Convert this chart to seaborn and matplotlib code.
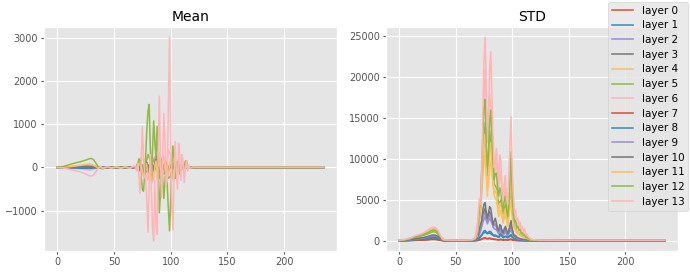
import matplotlib
matplotlib.use("Agg")
import matplotlib.pyplot as plt
from matplotlib.lines import Line2D
import numpy as np
import pandas as pd
import seaborn as sns

# ---------------- x positions ----------------
x_fine = ([0, 5, 10, 15, 20, 25, 28, 30, 32, 34, 36, 38, 40, 44, 48, 52, 56, 60, 64, 67]
          + list(range(69, 118))
          + [120, 124, 130, 140, 160, 200, 235])
x_coarse = [0, 5, 10, 15, 20, 25, 28, 30, 33, 36,
            40, 50, 60, 67, 70, 72, 74, 76, 78, 80,
            82, 84, 86, 88, 90, 92, 94, 96, 98, 100,
            102, 104, 106, 108, 110, 114, 118, 124, 140, 235]

layers = [f"layer {i}" for i in range(14)]
colors = ['#E24A33', '#348ABD', '#988ED5', '#777777', '#FBC15E', '#8EBA42', '#FFB5B8']

# ---------------- Mean (coarse grid: layers 0-9) ----------------
mean_l0 = [0, 0, -1, -1, -2, -2, -3, -2, -1, 0, 0, 0, 0, 0, 0, 2, -3, 4, -4, 5,
           -4, 4, -5, 5, -4, 3, -3, 3, -3, 2, -1, 1, 0, 0, 0, 0, 0, 0, 0, 0]
mean_l1 = [0, -2, -5, -8, -10, -13, -15, -14, -7, 0, 0, 0, 0, 0, 0, 5, -10, 15, -15, 20,
           -15, 15, -20, 20, -15, 10, -10, 10, -10, 8, -5, 3, 0, 0, 0, 0, 0, 0, 0, 0]
mean_l2 = [0, -3, -8, -12, -16, -20, -22, -20, -10, 0, 0, 0, 0, 0, -5, 10, -30, 30, -40, 50,
           -40, 40, -50, 50, -40, 30, -25, 20, -20, 15, -10, 5, 0, 0, 0, 0, 0, 0, 0, 0]
mean_l3 = [0, 1, 3, 5, 7, 9, 10, 9, 5, 0, 0, 0, 0, 0, 5, -15, -30, 40, -30, 60,
           -40, 50, -50, 70, -40, 40, -30, 30, -40, 30, -20, 15, -10, 5, 0, 0, 0, 0, 0, 0]
mean_l4 = [0, 2, 5, 8, 12, 18, 20, 18, 10, 0, 0, 0, 0, 0, 10, 30, 40, -40, 20, -50,
           -20, -40, 20, -40, 30, 20, -20, 20, -40, 40, -30, 20, -10, 10, -5, 5, 0, 0, 0, 0]
mean_l5 = [0, 5, 15, 25, 35, 50, 60, 55, 30, 0, -5, 0, 0, 5, 10, 50, -50, -150, 80, 300,
           150, 100, 250, 200, -250, 50, -150, 0, -250, -200, 100, -50, 30, -20, 20, 30, 0, 0, 0, 0]
mean_l6 = [0, -5, -15, -25, -35, -50, -60, -60, -30, 0, 5, 0, 5, -10, 20, -80, 150, 200, -150, -300,
           100, -350, 250, -300, 350, -150, 250, -100, 400, 300, -300, 150, -100, 60, 50, 20, 0, 0, 0, 0]
mean_l7 = [0, 0, -1, -2, -3, -4, -5, -4, -2, 0, 0, 0, 0, 0, 2, -5, 8, -10, 10, -8,
           6, -8, 8, -6, 5, -5, 4, -3, 3, -2, 1, 0, 0, 0, 0, 0, 0, 0, 0, 0]
mean_l8 = [0, -3, -8, -12, -16, -20, -22, -20, -10, 0, 0, 0, 0, 0, -5, 10, 20, -20, 30, -30,
           20, -25, 30, -20, 15, -15, 10, -10, 10, -5, 5, 0, 0, 0, 0, 0, 0, 0, 0, 0]
mean_l9 = [0, 5, 10, 15, 20, 25, 25, 20, 10, 0, 0, 0, 0, -5, 10, -20, -60, 50, -80, -120,
           100, -60, 80, -100, 90, -70, 60, -40, 30, -20, 10, -10, 5, 0, 0, 0, 0, 0, 0, 0]

# ---------------- Mean (fine grid: layers 10-13) ----------------
mean_l10 = [0, 2, 5, 8, 10, 15, 15, 12, 8, 3, 0, -5, 5, -5, 5, -5, 5, -5, 5, -10,
            10, -20, 30, -40, -80, 40, 60, -100, -150, 50, 120, -50, -120, 50, 150, 50, -80, 100, 280, 150,
            -50, -100, 80, 120, -50, -120, 50, 100, -30, -80, 40, 60, -20, -50, 20, 30, -10, -20, 10, 10,
            -5, 5, 0, 5, 0, 0, 0, 0, 0,
            0, 0, 0, 0, 0, 0, 0]
mean_l11 = [0, 5, 15, 30, 50, 70, 80, 75, 50, 20, -10, 10, -15, 10, -10, 15, -10, 10, -15, 20,
            -30, 60, -50, 120, 220, 180, -100, -200, -100, 100, 50, -150, -250, -100, 150, -200, -280, 50, 150, -150,
            -200, 100, 250, 50, -150, -100, 150, 100, -100, -200, 100, 200, 0, -150, -50, 100, 50, -80, -50, 60,
            40, -40, 30, 50, -20, 20, -10, 5, 0,
            0, 0, 0, 0, 0, 0, 0]
mean_l12 = [0, 20, 60, 100, 130, 170, 200, 210, 180, 100, 20, -20, -30, 10, -5, 5, -5, 5, -10, 20,
            -20, 50, 100, 200, 150, -200, -500, -550, -200, 300, 900, 1300, 1460, 500, -300, 400, 1080, 600, 200, 950,
            200, -1050, -600, 200, -300, -720, -300, 100, -400, -1000, -1470, -800, 100, 500, 200, -250, -100, 150, 100, -150,
            50, 100, -50, 50, 150, 150, 50, 0, 10,
            5, 0, 0, 0, 0, 0, 0]
mean_l13 = [0, -10, -40, -70, -100, -150, -190, -200, -180, -100, -20, 20, -20, 15, -10, 10, -15, 10, -20, 30,
            30, -80, 100, -200, -600, 100, 950, 300, -200, -300, -800, -1500, -400, 300, -500, -1400, -1700, -300, -1300, -1550,
            400, 1650, 200, -700, 300, 1250, 600, -400, -300, 1500, 3020, 800, -900, -1450, -200, 600, -100, -500, 560, 200,
            -300, 300, 100, -350, 0, 150, -80, 40, -20,
            10, 5, 5, 5, 5, 5, 5]

# ---------------- STD (coarse grid: layers 0-6) ----------------
std_l0 = [35, 45, 60, 85, 110, 150, 190, 200, 180, 100, 40, 35, 35, 50, 120, 200, 300, 350, 280, 320,
          250, 200, 180, 150, 180, 120, 150, 110, 200, 150, 90, 70, 60, 50, 45, 40, 35, 35, 35, 35]
std_l1 = [45, 60, 95, 150, 200, 280, 340, 370, 330, 170, 50, 45, 45, 70, 250, 500, 900, 1100, 900, 1000,
          800, 600, 650, 450, 750, 400, 550, 400, 650, 500, 250, 200, 150, 100, 90, 60, 50, 45, 45, 45]
std_l2 = [60, 80, 130, 210, 300, 410, 510, 550, 500, 260, 70, 60, 60, 100, 500, 1200, 2300, 3000, 2100, 2800,
          2200, 1500, 1400, 900, 1200, 700, 1100, 600, 1300, 1000, 400, 350, 250, 180, 150, 90, 70, 60, 60, 60]
std_l3 = [70, 90, 150, 260, 340, 470, 600, 640, 580, 300, 80, 70, 70, 120, 700, 1700, 3200, 4000, 2400, 3600,
          2600, 2000, 1900, 1100, 1600, 900, 1500, 800, 1700, 1300, 500, 420, 300, 220, 180, 110, 80, 70, 70, 70]
std_l4 = [90, 150, 300, 510, 720, 980, 1200, 1280, 1150, 600, 110, 90, 90, 220, 1500, 3500, 8000, 11000, 5500, 10000,
          8500, 5500, 5000, 3000, 3800, 2200, 3400, 1800, 4800, 3000, 1500, 1000, 800, 600, 500, 250, 110, 90, 90, 90]
std_l5 = [90, 130, 260, 470, 640, 850, 1050, 1150, 1050, 500, 110, 90, 90, 200, 1800, 4000, 10000, 14500, 8000, 13500,
          11000, 7000, 6500, 4500, 5000, 3300, 4500, 2500, 6000, 4500, 2000, 1300, 1000, 700, 600, 300, 120, 90, 90, 90]
std_l6 = [90, 170, 340, 600, 780, 1100, 1350, 1450, 1300, 700, 130, 100, 100, 250, 2800, 4000, 13000, 21000, 12000, 18000,
          15000, 8000, 9500, 6500, 8500, 4500, 6500, 4000, 10000, 7500, 3000, 2200, 1800, 1300, 1000, 500, 150, 100, 90, 90]

# ---------------- STD (fine grid: layers 7-13) ----------------
std_l7 = [40, 50, 70, 100, 130, 180, 220, 240, 230, 190, 110, 60, 40, 40, 40, 40, 40, 40, 42, 45,
          50, 80, 130, 170, 220, 300, 380, 400, 330, 300, 330, 350, 330, 280, 230, 220, 230, 200, 170, 160,
          200, 220, 170, 140, 160, 180, 160, 140, 170, 220, 250, 180, 120, 90, 90, 70, 65, 55, 50, 45,
          42, 40, 40, 38, 38, 36, 35, 35, 35,
          35, 35, 35, 35, 35, 35, 35]
std_l8 = [50, 70, 110, 170, 230, 320, 400, 430, 410, 350, 200, 90, 60, 50, 50, 50, 50, 50, 55, 80,
          100, 250, 450, 600, 750, 1000, 1250, 1300, 1100, 1000, 1100, 1200, 1150, 950, 750, 700, 750, 650, 550, 500,
          800, 900, 600, 450, 550, 600, 550, 450, 500, 700, 800, 550, 350, 250, 280, 200, 180, 150, 130, 110,
          100, 90, 80, 70, 65, 60, 55, 50, 50,
          50, 50, 50, 50, 50, 50, 50]
std_l9 = [70, 90, 150, 250, 350, 480, 600, 650, 620, 520, 300, 130, 80, 70, 70, 70, 70, 70, 80, 120,
          250, 600, 1100, 1500, 1900, 2800, 3300, 3500, 2700, 2300, 2700, 3300, 3100, 2400, 1700, 1900, 2100, 1700, 1200, 1000,
          1500, 1450, 950, 800, 1150, 1350, 1050, 700, 900, 1500, 1900, 1150, 700, 450, 520, 380, 300, 260, 220, 180,
          150, 150, 130, 110, 110, 90, 80, 75, 70,
          70, 70, 70, 70, 70, 70, 70]
std_l10 = [80, 100, 180, 300, 400, 550, 700, 750, 720, 600, 350, 150, 90, 80, 80, 80, 80, 80, 90, 150,
           300, 800, 1500, 2000, 2500, 3800, 4500, 4700, 3500, 2800, 3500, 4200, 4000, 3000, 2000, 2400, 2800, 2200, 1500, 1300,
           2000, 1900, 1200, 1000, 1500, 1800, 1400, 900, 1200, 2000, 2500, 1500, 900, 600, 700, 500, 400, 350, 300, 250,
           200, 200, 180, 150, 150, 120, 110, 100, 100,
           90, 80, 80, 80, 80, 80, 80]
std_l11 = [100, 180, 350, 600, 850, 1150, 1400, 1500, 1450, 1200, 700, 280, 130, 100, 100, 100, 100, 100, 120, 280,
           600, 2000, 3200, 4000, 7000, 10000, 12500, 13000, 9000, 6500, 6700, 11000, 12000, 9500, 7500, 5800, 6000, 6200, 4500, 3600,
           4600, 4500, 3000, 2600, 3500, 4000, 2600, 2000, 3200, 5500, 8000, 4000, 2300, 1700, 1800, 1200, 1300, 950, 1000, 650,
           700, 500, 550, 320, 350, 250, 180, 130, 100,
           100, 100, 100, 100, 100, 100, 100]
std_l12 = [100, 150, 300, 550, 750, 1000, 1250, 1350, 1300, 1100, 600, 250, 120, 100, 100, 100, 100, 100, 120, 250,
           800, 2500, 4000, 5000, 9000, 13000, 16500, 17300, 12000, 9000, 10500, 15000, 16000, 12500, 10000, 7500, 8200, 8300, 6500, 5500,
           6500, 6000, 4200, 4000, 5000, 5500, 3800, 3000, 4500, 7500, 10900, 5500, 3200, 2400, 2500, 1600, 1800, 1300, 1400, 900,
           1000, 700, 800, 450, 500, 350, 250, 180, 130,
           110, 100, 100, 100, 100, 100, 100]
std_l13 = [100, 200, 400, 700, 900, 1300, 1600, 1700, 1650, 1400, 800, 300, 150, 120, 110, 110, 110, 120, 150, 300,
           1200, 3500, 5200, 4500, 8000, 16000, 22000, 24900, 19000, 14000, 15000, 21000, 23100, 18000, 13000, 9000, 9500, 11300, 9000, 7500,
           10500, 9800, 6000, 5000, 7000, 8000, 5000, 4500, 8000, 12000, 15200, 9000, 5500, 3500, 3800, 2500, 2800, 2000, 2300, 1500,
           1800, 1200, 1500, 800, 900, 600, 400, 300, 200,
           150, 120, 110, 100, 100, 100, 100]

mean_series = [mean_l0, mean_l1, mean_l2, mean_l3, mean_l4, mean_l5, mean_l6, mean_l7,
               mean_l8, mean_l9, mean_l10, mean_l11, mean_l12, mean_l13]
std_series = [std_l0, std_l1, std_l2, std_l3, std_l4, std_l5, std_l6, std_l7,
              std_l8, std_l9, std_l10, std_l11, std_l12, std_l13]


def long_frame(series):
    rows = []
    for name, vals in zip(layers, series):
        xs = x_fine if len(vals) == len(x_fine) else x_coarse
        for xv, yv in zip(xs, vals):
            rows.append((name, xv, yv))
    return pd.DataFrame(rows, columns=["layer", "x", "value"])


df_mean = long_frame(mean_series)
df_std = long_frame(std_series)
palette = {name: colors[i % 7] for i, name in enumerate(layers)}

plt.style.use("ggplot")
plt.rcParams["font.family"] = ["DejaVu Sans"]
plt.rcParams["xtick.labelsize"] = 7
plt.rcParams["ytick.labelsize"] = 7

fig = plt.figure(figsize=(6.9, 2.73), dpi=100)
ax1 = fig.add_axes([0.0638, 0.0806, 0.4246, 0.8205])
ax2 = fig.add_axes([0.5594, 0.0806, 0.4232, 0.8205])

for ax, df, title in [(ax1, df_mean, "Mean"), (ax2, df_std, "STD")]:
    sns.lineplot(data=df, x="x", y="value", hue="layer", hue_order=layers,
                 palette=palette, ax=ax, legend=False, linewidth=1.1,
                 estimator=None, sort=True)
    ax.set_title(title, fontsize=10, pad=4)
    ax.set_xlabel("")
    ax.set_ylabel("")
    ax.set_xticks([0, 50, 100, 150, 200])
    ax.tick_params(length=2.5, pad=2)

ax1.set_yticks([-1000, 0, 1000, 2000, 3000])
ax2.set_yticks([0, 5000, 10000, 15000, 20000, 25000])

handles = [Line2D([], [], color=colors[i % 7], lw=1.1) for i in range(14)]
fig.legend(handles, layers, loc="upper right", bbox_to_anchor=(1.0, 1.0),
           fontsize=7.5, borderaxespad=0.15, handlelength=2.0,
           labelspacing=0.45, borderpad=0.4, handletextpad=0.8)

fig.savefig("out.png", dpi=100)
